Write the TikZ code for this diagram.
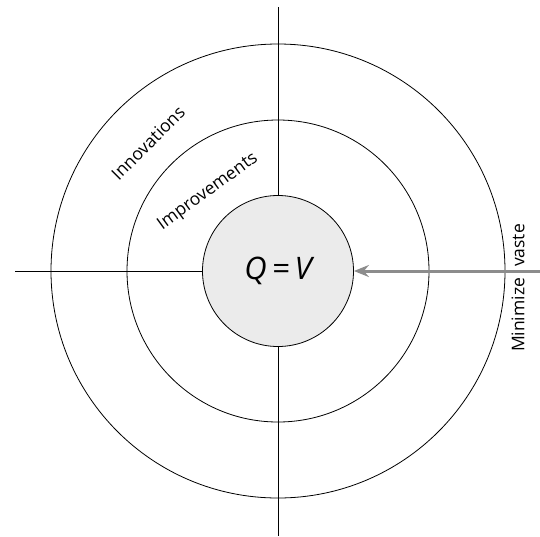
\documentclass[tikz,border=0pt]{standalone}
\usepackage{fontspec}
\setmainfont{Open Sans}
\usetikzlibrary{arrows.meta}
\definecolor{ringgray}{HTML}{EBEBEB}
\definecolor{arrgray}{HTML}{8C8C8C}
\tikzset{
  ring/.style={circle, draw=black, line width=0.8pt, inner sep=0pt},
  axis/.style={draw=black, line width=0.9pt},
  lbl/.style={font=\fontsize{17.5}{19}\selectfont, inner sep=0pt},
  arr/.style={-{Stealth[length=15pt,width=12pt,inset=5pt]}, line width=3pt, color=arrgray},
}
\begin{document}
\begin{tikzpicture}[x=1pt,y=-1pt]
  \useasboundingbox (0,0) rectangle (540,536);

  \coordinate (c) at (278,271);

  % axes
  \coordinate (top)   at (278,7);
  \coordinate (bot)   at (278,536);
  \coordinate (left)  at (15,271);
  \coordinate (right) at (540,271);

  \draw[axis] (top) -- (bot);
  \draw[axis] (left) -- (c);

  % rings
  \node[ring, minimum size=454pt] (outer) at (c) {};
  \node[ring, minimum size=302pt] (middle) at (c) {};
  \node[ring, minimum size=151pt, fill=ringgray, font=\fontsize{31}{33}\selectfont\itshape] (core) at (c) {Q\,=\,V};

  % labels
  \node[lbl, rotate=45] (innov) at (148,143) {Innovations};
  \node[lbl, rotate=36] (improv) at (208,192) {Improvements};
  \node[lbl, rotate=90] (waste) at (518,288) {Minimize\hspace{11pt}vaste};

  % arrow
  \draw[arr] (right) -- (core.east);

\end{tikzpicture}
\end{document}
